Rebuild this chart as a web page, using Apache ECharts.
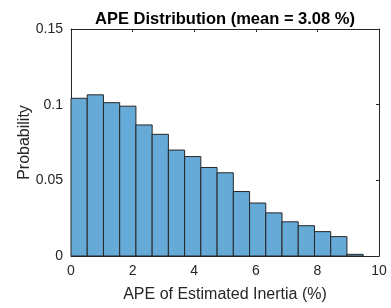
<!DOCTYPE html>
<html>
<head>
<meta charset="utf-8">
<script src="https://cdn.jsdelivr.net/npm/echarts@6/dist/echarts.min.js"></script>
<style>
  html, body { margin: 0; padding: 0; background: #fff; }
  #chart { width: 391px; height: 308px; }
</style>
</head>
<body>
<div id="chart"></div>
<script>
// histogram bins (APE %, edges) and probabilities
var binEdges = [0, 0.527, 1.054, 1.581, 2.108, 2.635, 3.162, 3.689, 4.216, 4.743,
                5.27, 5.797, 6.324, 6.851, 7.378, 7.905, 8.432, 8.959, 9.486];
var probability = [0.1042, 0.1065, 0.1013, 0.0990, 0.0866, 0.0804, 0.0700, 0.0657, 0.0585,
                   0.0550, 0.0426, 0.0350, 0.0285, 0.0226, 0.0200, 0.0161, 0.0128, 0.0011];
var xTicks = [0, 2, 4, 6, 8, 10];
var yTicks = [0, 0.05, 0.1, 0.15];

var axisColor = '#262626';
var font = 'Liberation Sans, Arial, Helvetica, sans-serif';

var bins = [];
for (var i = 0; i < probability.length; i++) {
  bins.push([binEdges[i], binEdges[i + 1], probability[i]]);
}

function boxAxis(extra) {
  var base = {
    axisLine: { show: true, onZero: false, lineStyle: { color: axisColor, width: 1 } },
    axisTick: { show: true, inside: true, length: 3, lineStyle: { color: axisColor } },
    splitLine: { show: false },
    axisLabel: { show: false }
  };
  for (var k in extra) base[k] = extra[k];
  return base;
}

var myChart = echarts.init(document.getElementById('chart'), null, { renderer: 'canvas' });

var option = {
  animation: false,
  backgroundColor: '#fff',
  title: {
    text: 'APE Distribution (mean = 3.08 %)',
    left: 220, top: 6, textAlign: 'center',
    textStyle: { fontFamily: font, fontSize: 16.5, fontWeight: 'bold', color: '#000' }
  },
  grid: { left: 71, right: 12, top: 29, bottom: 49 },
  xAxis: [
    boxAxis({
      type: 'value', min: xTicks[0], max: xTicks[xTicks.length - 1], interval: 2,
      position: 'bottom',
      name: 'APE of Estimated Inertia (%)', nameLocation: 'middle', nameGap: 31,
      nameMoveOverlap: false,
      nameTextStyle: { fontFamily: font, fontSize: 16, color: axisColor },
      axisLabel: { show: true, margin: 8, fontFamily: font, fontSize: 14, color: axisColor }
    }),
    boxAxis({ type: 'value', min: 0, max: 10, interval: 2, position: 'top' })
  ],
  yAxis: [
    boxAxis({
      type: 'value', min: yTicks[0], max: yTicks[yTicks.length - 1], interval: 0.05,
      position: 'left',
      name: 'Probability', nameLocation: 'middle', nameGap: 38,
      nameMoveOverlap: false,
      nameTextStyle: { fontFamily: font, fontSize: 16, color: axisColor },
      axisLabel: { show: true, margin: 8, fontFamily: font, fontSize: 14, color: axisColor }
    }),
    boxAxis({ type: 'value', min: 0, max: 0.15, interval: 0.05, position: 'right' })
  ],
  series: [{
    type: 'custom',
    xAxisIndex: 0,
    yAxisIndex: 0,
    data: bins,
    renderItem: function (params, api) {
      var p0 = api.coord([api.value(0), 0]);
      var p1 = api.coord([api.value(1), api.value(2)]);
      return {
        type: 'rect',
        shape: { x: p0[0], y: p1[1], width: p1[0] - p0[0], height: p0[1] - p1[1] },
        style: { fill: '#66aad7', stroke: '#262626', lineWidth: 1 }
      };
    }
  }]
};

myChart.setOption(option);
</script>
</body>
</html>
